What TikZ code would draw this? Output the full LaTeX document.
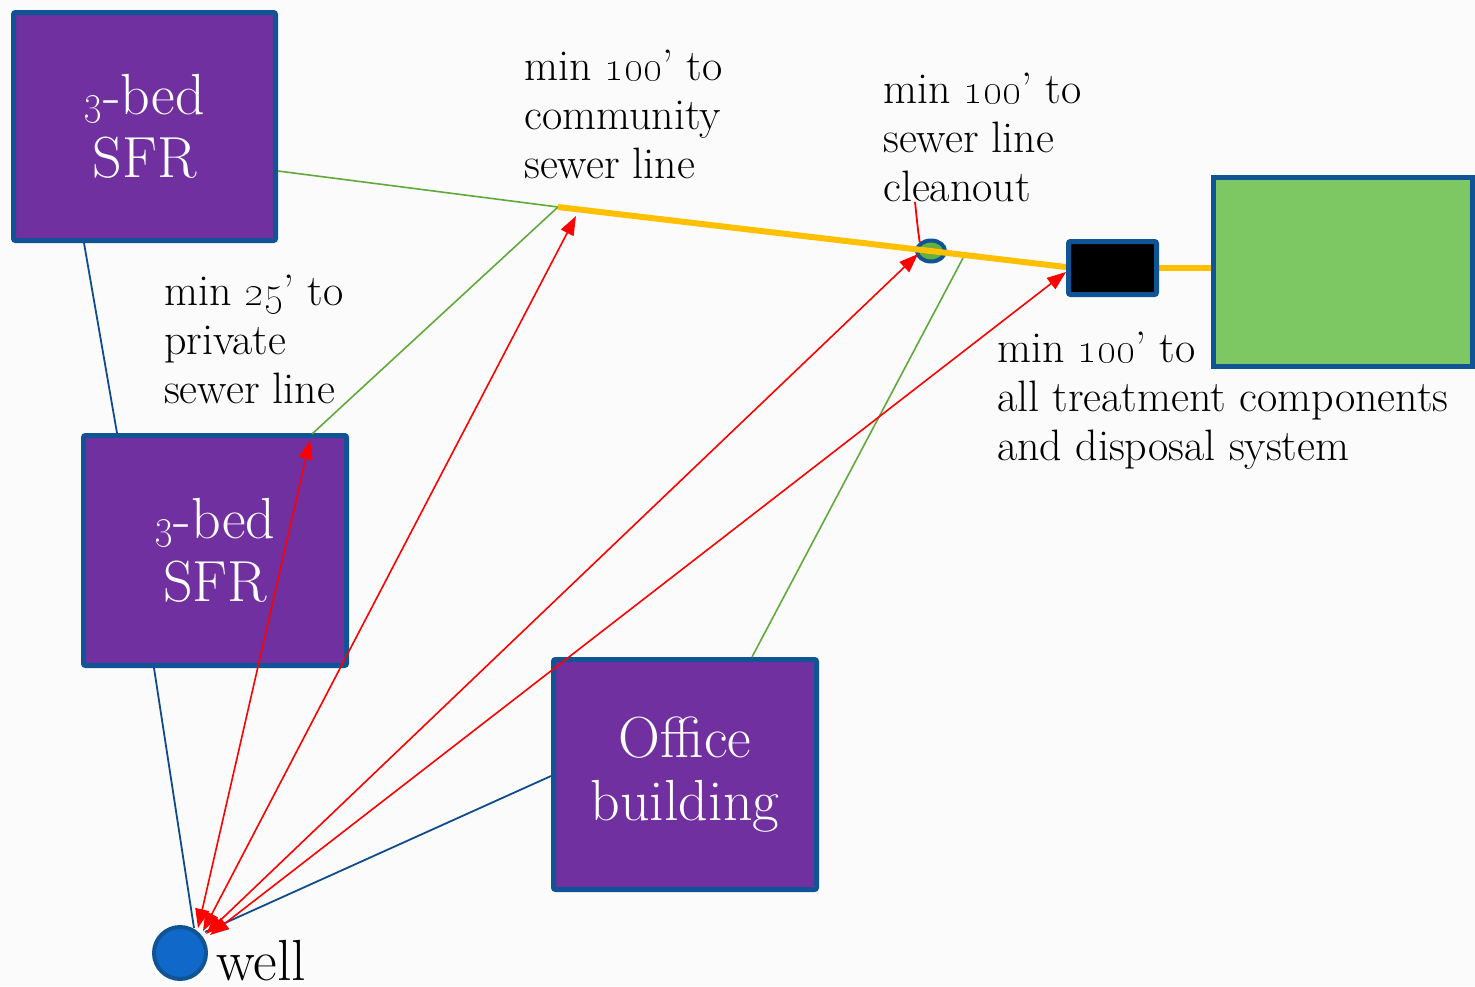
\documentclass[tikz,border=0pt]{standalone}
\usetikzlibrary{arrows.meta,shapes.geometric}
\definecolor{bgc}{RGB}{251,251,251}
\definecolor{purp}{RGB}{112,48,160}
\definecolor{edge}{RGB}{16,84,150}
\definecolor{lawn}{RGB}{125,200,98}
\definecolor{pipe}{RGB}{255,192,0}
\definecolor{gline}{RGB}{96,170,60}
\definecolor{bline}{RGB}{16,76,140}
\definecolor{wellc}{RGB}{16,104,200}
\definecolor{cleanc}{RGB}{100,176,64}
% old-style figures, a little larger than the default
\newcommand\osn[1]{\scalebox{1.2}{\oldstylenums{#1}}}
\tikzset{
  house/.style={draw=edge, fill=purp, line width=5pt, rounded corners=2pt,
    text=white, align=center, inner sep=0pt,
    font=\fontsize{58}{63}\selectfont},
  lbl/.style={anchor=north west, align=left, inner sep=0pt,
    font=\fontsize{44}{49}\selectfont},
  sewer/.style={gline, line width=1.6pt},
  pipeline/.style={pipe, line width=6pt},
  tie/.style={bline, line width=1.8pt},
  dist/.style={red, line width=1.6pt,
    {Triangle[length=19pt,width=14pt]}-{Triangle[length=19pt,width=14pt]}}
}
\begin{document}
\begin{tikzpicture}[x=1pt,y=-1pt]
\fill[bgc] (0,0) rectangle (1475,986);
\useasboundingbox (0,0) rectangle (1475,986);

% buildings
\node[house, minimum width=262pt, minimum height=228pt] (sfrA) at (144.5,126.5)
  {\osn{3}-bed\\SFR};
\node[house, minimum width=263pt, minimum height=230pt] (sfrB) at (215,550.5)
  {\osn{3}-bed\\SFR};
\node[house, minimum width=263pt, minimum height=230pt] (office) at (685,774.5)
  {Office\\building};

% treatment area, cleanout, well
\node[draw=edge, fill=lawn, line width=5pt, minimum width=259pt, minimum height=189pt,
  inner sep=0pt] (field) at (1343,272) {};
\node[draw=edge, fill=cleanc, line width=4pt, ellipse, minimum width=28pt,
  minimum height=21pt, inner sep=0pt] (clean) at (931,251) {};
\node[draw=edge, fill=wellc, line width=4pt, circle, minimum size=52pt,
  inner sep=0pt] (well) at (180,953) {};
\node[anchor=base west, inner sep=0pt, font=\fontsize{58}{64}\selectfont] (welltxt)
  at (216,980) {well};

% junction points
\coordinate (sA) at (278,171);
\coordinate (jn) at (558,207);
\coordinate (sB) at (312,434);
\coordinate (jo) at (963,258);
\coordinate (sO) at (752,657);
\coordinate (tw) at (1066,267);
\coordinate (te) at (1159,268);
\coordinate (fw) at (1211,268);

% sewer lines and septic tank
\draw[sewer] (sA) -- (jn);
\draw[sewer] (jn) -- (sB);
\draw[sewer] (jo) -- (sO);
\draw[pipeline] (jn) -- (tw);
\draw[pipeline] (te) -- (fw);
\node[draw=edge, fill=black, line width=5pt, rounded corners=2pt, minimum width=88pt,
  minimum height=53pt, inner sep=0pt] (tank) at (1112.5,268) {};

% well ties
\coordinate (wA) at (84,243);
\coordinate (wB) at (117,433);
\coordinate (wC) at (154,668);
\coordinate (wD) at (194,928);
\coordinate (wE) at (551,776);
\coordinate (wF) at (205,932);
\draw[tie] (wA) -- (wB);
\draw[tie] (wC) -- (wD);
\draw[tie] (wE) -- (wF);

% setback distances
\coordinate (r1) at (198,928);
\coordinate (r2) at (203,931);
\coordinate (r3) at (206,934);
\coordinate (r4) at (210,935);
\coordinate (t1) at (310,440);
\coordinate (t2) at (576,216);
\coordinate (t3) at (918,254);
\coordinate (t4) at (1066,272);
\draw[dist] (r1) -- (t1);
\draw[dist] (r2) -- (t2);
\draw[dist] (r3) -- (t3);
\draw[dist] (r4) -- (t4);

% labels
\node[lbl] (l1) at (524,50) {min \osn{100}’ to\\community\\sewer line};
\node[lbl] (l2) at (883,73) {min \osn{100}’ to\\sewer line\\cleanout};
\node[lbl] (l3) at (164,275) {min \osn{25}’ to\\private\\sewer line};
\node[lbl] (l4) at (997,332) {min \osn{100}’ to\\all treatment components\\and disposal system};

% cleanout pointer
\coordinate (p1) at (915,202);
\coordinate (p2) at (918,230);
\draw[red, line width=1.8pt] (p1) -- (p2) -- (clean.north west);
\end{tikzpicture}
\end{document}
